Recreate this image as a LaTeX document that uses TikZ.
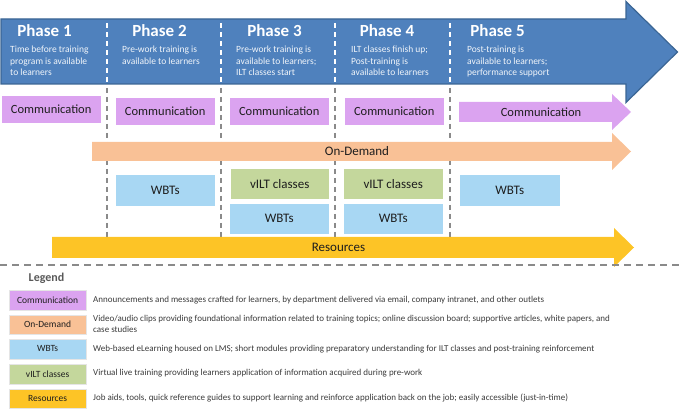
\documentclass[tikz,border=0pt]{standalone}
\usepackage{fontspec}
\setmainfont{Carlito}
\definecolor{phaseblue}{HTML}{4F81BD}
\definecolor{phaseborder}{HTML}{3A6594}
\definecolor{commcol}{HTML}{DBA3F0}
\definecolor{odcol}{HTML}{F9C196}
\definecolor{wbtcol}{HTML}{A8D7F3}
\definecolor{viltcol}{HTML}{C4D79C}
\definecolor{rescol}{HTML}{FDC426}
\definecolor{dashgray}{HTML}{8A8A8A}
\definecolor{txtdark}{HTML}{1E1E1E}
\definecolor{legtxt}{HTML}{3A3A3A}
\tikzset{
  phasetitle/.style={font=\fontsize{17}{20}\selectfont\bfseries, text=white, inner sep=0pt, anchor=base},
  phasedesc/.style={font=\fontsize{9.5}{11.5}\selectfont, text=white!92!phaseblue, inner sep=0pt, anchor=north west, align=left},
  tbox/.style={minimum width=#1, inner sep=0pt, text=txtdark, font=\fontsize{13}{15}\selectfont, anchor=north west, draw=white, line width=0.4pt},
  arrtext/.style={font=\fontsize{13}{15}\selectfont, text=txtdark, inner sep=0pt},
  legbox/.style={minimum width=77pt, minimum height=19.5pt, inner sep=0pt, text=txtdark, font=\fontsize{9.5}{11}\selectfont, anchor=north west, draw=white!90!black, line width=0.3pt},
  legdesc/.style={font=\fontsize{9}{11}\selectfont, text=legtxt, inner sep=0pt, anchor=west, align=left},
  sepwhite/.style={draw=white, line width=1.5pt, dash pattern=on 5pt off 4pt},
  sepgray/.style={draw=dashgray, line width=1.5pt, dash pattern=on 5pt off 4pt},
}
\begin{document}
\begin{tikzpicture}[x=1pt,y=-1pt]
\useasboundingbox (0,0) rectangle (679,411);
% big phase arrow
\draw[fill=phaseblue, draw=phaseborder, line width=1.2pt] (1,19) -- (626,19) -- (626,1.5) -- (677.5,52) -- (626,102.5) -- (626,84) -- (1,84) -- cycle;
% separators
\foreach \sx in {107,221,335,450}{
  \draw[sepwhite] (\sx,23) -- (\sx,82);
  \draw[sepgray] (\sx,88) -- (\sx,240);
}
% phase titles
\node[phasetitle] (p1) at (44.5,37) {Phase 1};
\node[phasetitle] (p2) at (159.5,37) {Phase 2};
\node[phasetitle] (p3) at (274.5,37) {Phase 3};
\node[phasetitle] (p4) at (387,37) {Phase 4};
\node[phasetitle] (p5) at (497.5,37) {Phase 5};
\node[phasedesc] (d1) at (10,46) {Time before training\\program is available\\to learners};
\node[phasedesc] (d2) at (122,46) {Pre-work training is\\available to learners};
\node[phasedesc] (d3) at (236,46) {Pre-work training is\\available to learners;\\ILT classes start};
\node[phasedesc] (d4) at (351,46) {ILT classes finish up;\\Post-training is\\available to learners};
\node[phasedesc] (d5) at (467,46) {Post-training is\\available to learners;\\performance support};
% communication row
\node[tbox=100pt, minimum height=28pt, fill=commcol, font=\fontsize{12.5}{14}\selectfont] (c1) at (1,95.5) {Communication};
\node[tbox=100pt, minimum height=28pt, fill=commcol, font=\fontsize{12.5}{14}\selectfont] (c2) at (115,97) {Communication};
\node[tbox=100pt, minimum height=28pt, fill=commcol, font=\fontsize{12.5}{14}\selectfont] (c3) at (229,97) {Communication};
\node[tbox=100pt, minimum height=28pt, fill=commcol, font=\fontsize{12.5}{14}\selectfont] (c4) at (344,97) {Communication};
\fill[commcol] (459,102) -- (612,102) -- (612,94) -- (631,112) -- (612,130) -- (612,122) -- (459,122) -- cycle;
\node[arrtext, font=\fontsize{12.5}{14}\selectfont] (c5) at (541,112) {Communication};
% on-demand arrow
\fill[odcol] (92,142) -- (612,142) -- (612,133) -- (631,151.5) -- (612,170) -- (612,161) -- (92,161) -- cycle;
\node[arrtext] (od) at (357,151.5) {On-Demand};
% WBTs / vILT
\node[tbox=100pt, minimum height=32pt, fill=wbtcol] (w2) at (115,174) {WBTs};
\node[tbox=99pt, minimum height=31pt, fill=viltcol] (v3) at (230,168) {vILT classes};
\node[tbox=100pt, minimum height=31pt, fill=wbtcol] (w3) at (229,203) {WBTs};
\node[tbox=100pt, minimum height=31pt, fill=viltcol] (v4) at (343,168) {vILT classes};
\node[tbox=100pt, minimum height=31pt, fill=wbtcol] (w4) at (343,203) {WBTs};
\node[tbox=101pt, minimum height=32pt, fill=wbtcol] (w5) at (459,174) {WBTs};
% resources arrow
\fill[rescol] (52,237) -- (614,237) -- (614,228) -- (634,247.5) -- (614,267) -- (614,258) -- (52,258) -- cycle;
\node[arrtext] (res) at (338.5,247.5) {Resources};
% horizontal separator
\draw[sepgray, dash pattern=on 7pt off 5pt] (0,265) -- (679,265);
% legend
\node[font=\fontsize{12}{14}\selectfont\bfseries, text=black!65, inner sep=0pt] (leg) at (46.5,278.5) {Legend};
\node[legbox, fill=commcol] (l1) at (9,290) {Communication};
\node[legbox, fill=odcol] (l2) at (9,314.5) {On-Demand};
\node[legbox, fill=wbtcol] (l3) at (9,339) {WBTs};
\node[legbox, fill=viltcol] (l4) at (9,364) {vILT classes};
\node[legbox, fill=rescol] (l5) at (9,388.5) {Resources};
\node[legdesc] (t1) at (93,300) {Announcements and messages crafted for learners, by department delivered via email, company intranet, and other outlets};
\node[legdesc, anchor=north west] (t2) at (93,315) {Video/audio clips providing foundational information related to training topics; online discussion board; supportive articles, white papers, and\\case studies};
\node[legdesc] (t3) at (93,349) {Web-based eLearning housed on LMS; short modules providing preparatory understanding for ILT classes and post-training reinforcement};
\node[legdesc] (t4) at (93,373.5) {Virtual live training providing learners application of information acquired during pre-work};
\node[legdesc] (t5) at (93,398) {Job aids, tools, quick reference guides to support learning and reinforce application back on the job; easily accessible (just-in-time)};
\end{tikzpicture}
\end{document}
